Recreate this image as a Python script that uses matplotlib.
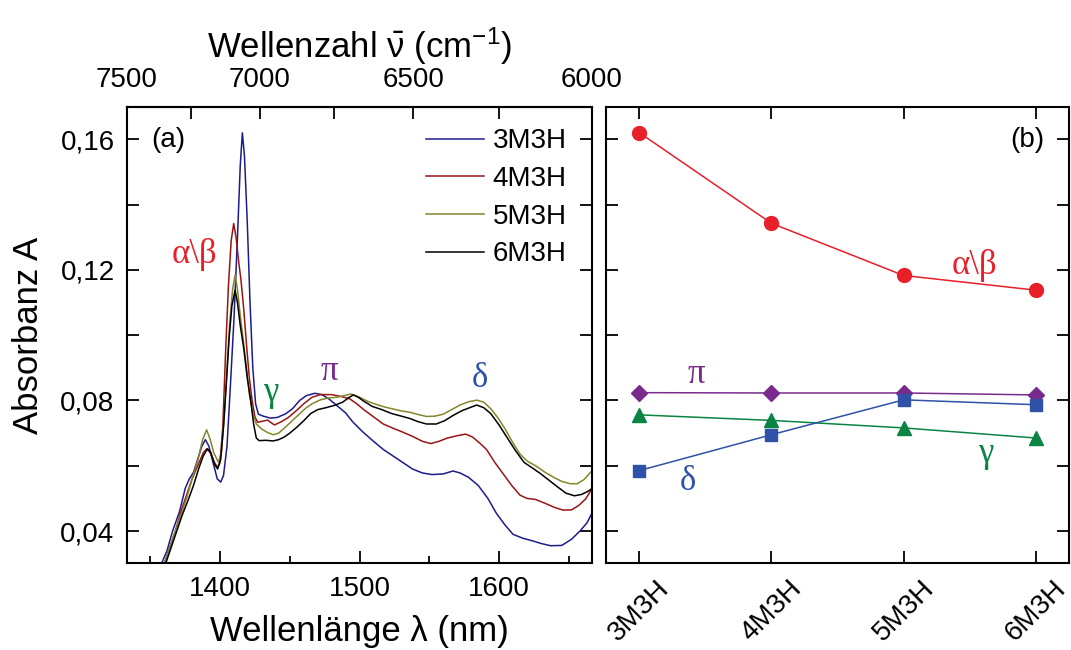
import matplotlib
matplotlib.use("Agg")
import matplotlib.pyplot as plt
import numpy as np
from matplotlib.ticker import MultipleLocator, FixedLocator, FuncFormatter

plt.rcParams['font.family'] = ['Liberation Sans', 'DejaVu Sans']
plt.rcParams['mathtext.fontset'] = 'custom'
plt.rcParams['mathtext.rm'] = 'Liberation Sans'
plt.rcParams['mathtext.it'] = 'Liberation Sans:italic'

# --- NIR spectra: wavelength (nm), absorbance ---
wl_3m3h = [1358, 1362, 1366, 1371, 1375, 1378, 1381, 1384, 1387, 1389.5, 1392, 1395, 1398,
           1400.5, 1402.5, 1405, 1407.5, 1410, 1412.5, 1414.5, 1416, 1417.5, 1419.5, 1421.5,
           1423.5, 1425.5, 1427.5, 1431, 1436, 1441, 1447, 1452, 1457, 1462, 1468, 1473,
           1478, 1485, 1490, 1495, 1502, 1510, 1517, 1524, 1531, 1538, 1545, 1552, 1560,
           1567, 1572, 1578, 1585, 1592, 1598, 1604, 1610, 1617, 1624, 1630, 1637, 1645,
           1652, 1658, 1663, 1666.7]
a_3m3h = [0.030, 0.034, 0.040, 0.046, 0.053, 0.056, 0.058, 0.062, 0.066, 0.068, 0.066, 0.061,
          0.056, 0.0550, 0.057, 0.066, 0.085, 0.105, 0.130, 0.152, 0.162, 0.155, 0.135, 0.110,
          0.090, 0.079, 0.0758, 0.0752, 0.0746, 0.0748, 0.0759, 0.0775, 0.080, 0.0815, 0.0822,
          0.0818, 0.0805, 0.078, 0.0762, 0.0735, 0.0705, 0.0675, 0.065, 0.063, 0.061, 0.059,
          0.0578, 0.0573, 0.0575, 0.0584, 0.0578, 0.0565, 0.054, 0.050, 0.0455, 0.042, 0.039,
          0.0378, 0.037, 0.0362, 0.0355, 0.0356, 0.0375, 0.040, 0.0425, 0.0455]

wl_4m3h = [1360, 1364, 1368, 1372, 1376, 1380, 1384, 1388, 1390.5, 1393, 1396, 1398.3, 1400,
           1402, 1404, 1406, 1408, 1409.8, 1411.5, 1413.5, 1415, 1417, 1419, 1421, 1423, 1425,
           1427, 1431, 1434, 1439, 1444, 1449, 1455, 1460, 1466, 1472, 1480, 1487, 1493, 1498,
           1503, 1510, 1517, 1524, 1531, 1538, 1545, 1551, 1557, 1563, 1570, 1576, 1581, 1586,
           1591, 1597, 1603, 1609, 1615, 1620, 1626, 1633, 1640, 1646, 1652, 1657, 1662, 1666.7]
a_4m3h = [0.030, 0.035, 0.040, 0.046, 0.051, 0.056, 0.060, 0.064, 0.0652, 0.064, 0.061, 0.0595,
          0.061, 0.072, 0.095, 0.115, 0.129, 0.1342, 0.130, 0.122, 0.117, 0.108, 0.097, 0.087,
          0.080, 0.075, 0.0733, 0.0737, 0.0740, 0.0725, 0.0735, 0.0748, 0.077, 0.079, 0.081,
          0.0818, 0.0818, 0.0812, 0.0805, 0.079, 0.0772, 0.075, 0.0728, 0.0715, 0.0703, 0.069,
          0.0675, 0.0668, 0.0675, 0.0685, 0.0692, 0.0697, 0.0688, 0.067, 0.065, 0.061, 0.0575,
          0.054, 0.051, 0.050, 0.0497, 0.0485, 0.0472, 0.0464, 0.0465, 0.0478, 0.0498, 0.053]

wl_5m3h = [1360, 1364, 1368, 1372, 1376, 1380, 1384, 1387.5, 1390.4, 1393, 1395.5, 1398.8,
           1401, 1403, 1405, 1407, 1409, 1410.8, 1412.5, 1414.5, 1416.5, 1419, 1421, 1423.5,
           1426, 1430, 1434, 1438.3, 1442, 1446, 1451, 1456, 1461, 1466, 1472, 1478, 1484,
           1490, 1494, 1500, 1506, 1512, 1518, 1524, 1530, 1536, 1542, 1548, 1554, 1560, 1566,
           1572, 1578, 1584, 1589, 1594, 1599, 1604, 1610, 1615, 1620, 1627, 1633, 1639, 1645,
           1651, 1656, 1661, 1666.7]
a_5m3h = [0.030, 0.035, 0.040, 0.045, 0.050, 0.056, 0.0616, 0.068, 0.0710, 0.068, 0.064,
          0.0611, 0.064, 0.075, 0.090, 0.104, 0.114, 0.1184, 0.114, 0.106, 0.099, 0.090, 0.082,
          0.076, 0.0728, 0.0712, 0.0702, 0.0695, 0.070, 0.0715, 0.0735, 0.0755, 0.0775, 0.0790,
          0.0802, 0.0808, 0.0810, 0.0816, 0.0820, 0.081, 0.0797, 0.0788, 0.078, 0.0774, 0.0768,
          0.0764, 0.0757, 0.0751, 0.0752, 0.0758, 0.0772, 0.0786, 0.0796, 0.0801, 0.0795,
          0.0775, 0.0748, 0.0715, 0.067, 0.0636, 0.0615, 0.0598, 0.058, 0.0565, 0.0552, 0.0545,
          0.0545, 0.0558, 0.0585]

wl_6m3h = [1361, 1365, 1369, 1373, 1377, 1381, 1385, 1388, 1391, 1393.5, 1396, 1398.3, 1400.5,
           1402.5, 1404.5, 1406.5, 1408.5, 1410.8, 1412.5, 1414.5, 1417, 1419.5, 1422, 1424,
           1426, 1428, 1433, 1438, 1442, 1446, 1450, 1455, 1460, 1465, 1470, 1476, 1482, 1488,
           1492, 1495.5, 1499, 1503, 1509, 1516, 1523, 1530, 1536, 1542, 1548, 1555, 1561, 1567,
           1573, 1579, 1584, 1589, 1594, 1600, 1606, 1612, 1618, 1624, 1630, 1636, 1642, 1648,
           1654, 1659, 1663, 1666.7]
a_6m3h = [0.030, 0.035, 0.040, 0.045, 0.0493, 0.054, 0.0595, 0.0630, 0.0652, 0.064, 0.0605,
          0.0590, 0.062, 0.072, 0.085, 0.099, 0.109, 0.1138, 0.110, 0.103, 0.096, 0.087, 0.080,
          0.073, 0.0685, 0.0677, 0.0678, 0.0676, 0.068, 0.0688, 0.0700, 0.0718, 0.0738, 0.0760,
          0.0772, 0.0778, 0.0785, 0.0795, 0.0808, 0.0817, 0.081, 0.0798, 0.0782, 0.0772,
          0.0760, 0.0752, 0.0745, 0.0735, 0.0728, 0.0728, 0.0738, 0.0754, 0.0768, 0.0778,
          0.0786, 0.0778, 0.0760, 0.0725, 0.0685, 0.0645, 0.0610, 0.0593, 0.0575, 0.0555,
          0.0535, 0.0516, 0.0508, 0.0512, 0.052, 0.053]

# --- band intensities per compound ---
compounds = ['3M3H', '4M3H', '5M3H', '6M3H']
band_ab = [0.1621, 0.1343, 0.1183, 0.1138]
band_pi = [0.0824, 0.0823, 0.0823, 0.0817]
band_gamma = [0.0756, 0.0739, 0.0716, 0.0685]
band_delta = [0.0585, 0.0695, 0.0802, 0.0787]

RED = '#e8202a'
PURPLE = '#7a2a8c'
GREEN = '#0a8442'
BLUE = '#2f52a8'

fig = plt.figure(figsize=(10.71, 6.5), dpi=100)
ax1 = fig.add_axes([0.1186, 0.1338, 0.4342, 0.7015])
ax2 = fig.add_axes([0.5658, 0.1338, 0.4323, 0.7015])

tick_fs = 20
label_fs = 25
greek_fs = 25
greek = ['Liberation Serif', 'DejaVu Serif']

# panel (a): spectra
ax1.plot(wl_3m3h, a_3m3h, color='#1c1c8c', lw=1.1, label='3M3H')
ax1.plot(wl_4m3h, a_4m3h, color='#9a1416', lw=1.1, label='4M3H')
ax1.plot(wl_5m3h, a_5m3h, color='#85852a', lw=1.1, label='5M3H')
ax1.plot(wl_6m3h, a_6m3h, color='black', lw=1.1, label='6M3H')
ax1.set_xlim(1e7 / 7500, 1e7 / 6000)
ax1.set_ylim(0.0302, 0.1699)
ax1.xaxis.set_major_locator(FixedLocator([1400, 1500, 1600]))
ax1.xaxis.set_minor_locator(MultipleLocator(50))
ax1.set_xlabel('Wellenlänge λ (nm)', fontsize=label_fs, labelpad=10)
ax1.set_ylabel('Absorbanz A', fontsize=label_fs, labelpad=11)

leg = ax1.legend(loc='upper left', bbox_to_anchor=(0.643, 0.953), frameon=False,
                 fontsize=tick_fs, handlelength=2.1, handletextpad=0.3,
                 labelspacing=0.42, borderpad=0, borderaxespad=0)

ax1.text(1363, 0.1598, '(a)', fontsize=tick_fs, ha='center', va='center')
ax1.text(1381.6, 0.1246, 'α\\β', color=RED, fontsize=greek_fs, family=greek, ha='center', va='center')
ax1.text(1436.6, 0.0823, 'γ', color=GREEN, fontsize=greek_fs, family=greek, ha='center', va='center')
ax1.text(1478.5, 0.0889, 'π', color=PURPLE, fontsize=greek_fs, family=greek, ha='center', va='center')
ax1.text(1586.1, 0.0868, 'δ', color=BLUE, fontsize=greek_fs, family=greek, ha='center', va='center')

top = ax1.secondary_xaxis('top', functions=(lambda x: 1e7 / x, lambda x: 1e7 / x))
top.xaxis.set_major_locator(FixedLocator([7500, 7000, 6500, 6000]))
top.xaxis.set_minor_locator(FixedLocator([7250, 6750, 6250]))
top.set_xlabel(r'Wellenzahl $\bar{\mathrm{\nu}}$ (cm$^{-1}$)', fontsize=label_fs, labelpad=7)
top.tick_params(which='both', direction='in', labelsize=tick_fs, width=1.3, pad=10)
top.tick_params(which='major', length=8.5)
top.tick_params(which='minor', length=8.5)
top.spines['top'].set_linewidth(1.5)

# panel (b): band intensities
xi = np.arange(len(compounds))
ax2.plot(xi, band_ab, '-o', color=RED, lw=1.1, ms=10)
ax2.plot(xi, band_pi, '-D', color=PURPLE, lw=1.1, ms=8.5)
ax2.plot(xi, band_gamma, '-^', color=GREEN, lw=1.1, ms=10)
ax2.plot(xi, band_delta, '-s', color=BLUE, lw=1.1, ms=8.5)
ax2.set_xlim(-0.25, 3.25)
ax2.set_ylim(0.0302, 0.1699)
ax2.set_xticks(xi)
ax2.set_xticklabels(compounds, rotation=45, ha='center', va='top')
ax2.tick_params(axis='x', top=True, labeltop=False)
ax2.text(2.536, 0.1215, 'α\\β', color=RED, fontsize=greek_fs, family=greek, ha='center', va='center')
ax2.text(0.435, 0.0879, 'π', color=PURPLE, fontsize=greek_fs, family=greek, ha='center', va='center')
ax2.text(0.372, 0.0552, 'δ', color=BLUE, fontsize=greek_fs, family=greek, ha='center', va='center')
ax2.text(2.62, 0.0639, 'γ', color=GREEN, fontsize=greek_fs, family=greek, ha='center', va='center')
ax2.text(2.936, 0.1598, '(b)', fontsize=tick_fs, ha='center', va='center')

fmt = FuncFormatter(lambda v, p: f'{v:.2f}'.replace('.', ','))
for ax in (ax1, ax2):
    ax.yaxis.set_major_locator(FixedLocator([0.04, 0.08, 0.12, 0.16]))
    ax.yaxis.set_minor_locator(FixedLocator([0.06, 0.10, 0.14]))
    ax.yaxis.set_major_formatter(fmt)
    ax.tick_params(which='both', direction='in', labelsize=tick_fs, width=1.3, right=True)
    ax.tick_params(which='major', length=8.5, pad=9)
    ax.tick_params(axis='y', which='minor', length=8.5)
    ax.tick_params(axis='x', which='minor', length=5)
    for s in ax.spines.values():
        s.set_linewidth(1.5)
ax1.tick_params(axis='x', top=False)
ax2.tick_params(axis='y', labelleft=False)

fig.savefig('out.png', dpi=100)
